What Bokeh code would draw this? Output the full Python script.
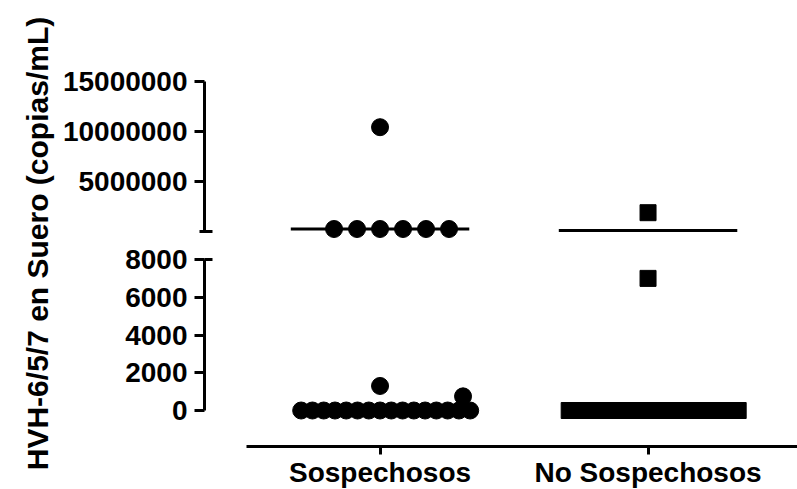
import numpy as np
from bokeh.plotting import figure
from bokeh.layouts import row, column
from bokeh.models import Range1d, FixedTicker, NumeralTickFormatter
from bokeh.embed import file_html
from bokeh.resources import INLINE

# ---------------- data ----------------
categories = ["Sospechosos", "No Sospechosos"]
sosp_values = [10400000] + [220000] * 6 + [1300, 750] + [0] * 16
nosp_values = [1850000, 7000] + [0] * 16
group_lines = [220000, 80000]          # horizontal line drawn for each group
upper_ticks = [5000000, 10000000, 15000000]
lower_ticks = [0, 2000, 4000, 6000, 8000]
break_value = 8000                      # top of the lower axis segment
upper_bottom = 0                        # bottom of the upper axis segment
upper_top = 15000000
y_title = "HVH-6/5/7 en Suero (copias/mL)"

# ---------------- layout helpers ----------------
FONT = "Liberation Sans"
PX_PER_CAT = 268.0
lone_shift_px = {750: 83.0}   # Prism nudged this lone point sideways


def scatter_offsets(values):
    vals = np.asarray(values, float)
    off = np.zeros(len(vals))
    for v in np.unique(vals):
        idx = np.where(vals == v)[0]
        n = len(idx)
        if n > 1:
            step = min(23.0, 169.0 / (n - 1))
            k = np.arange(n) - (n - 1) // 2
            off[idx] = k * step
        elif v in lone_shift_px:
            off[idx] = lone_shift_px[v]
    return off / PX_PER_CAT


xr = Range1d(0.345, 0.345 + 593 / PX_PER_CAT)


def style_y(ax):
    ax.axis_line_width = 3
    ax.axis_line_color = "black"
    ax.major_tick_line_width = 3
    ax.minor_tick_line_width = 3
    ax.major_tick_in = 0
    ax.major_tick_out = 10
    ax.major_label_text_font = FONT
    ax.major_label_text_font_style = "bold"
    ax.major_label_text_font_size = "28px"
    ax.major_label_text_color = "black"
    ax.major_label_standoff = 7


common = dict(toolbar_location=None, output_backend="svg", x_range=xr,
              frame_width=593, min_border_left=148, min_border_right=0,
              min_border_top=0, min_border_bottom=0, outline_line_color=None,
              background_fill_color="white", border_fill_color="white")

# ---------------- upper segment ----------------
upper = figure(frame_height=240, y_range=Range1d(-930000, 23070000),
               x_axis_location=None, **common)
upper.grid.visible = False
style_y(upper.yaxis[0])
upper.yaxis[0].ticker = FixedTicker(ticks=upper_ticks, minor_ticks=[upper_bottom])
upper.yaxis[0].formatter = NumeralTickFormatter(format="0")
upper.yaxis[0].bounds = (upper_bottom, upper_top)
upper.yaxis[0].minor_tick_in = 8
upper.yaxis[0].minor_tick_out = 5

# ---------------- lower segment ----------------
lower = figure(frame_height=206, y_range=Range1d(-1907, 9007), **common)
lower.grid.visible = False
style_y(lower.yaxis[0])
lower.yaxis[0].ticker = FixedTicker(ticks=lower_ticks, minor_ticks=[break_value])
lower.yaxis[0].formatter = NumeralTickFormatter(format="0")
lower.yaxis[0].bounds = (0, break_value)
lower.yaxis[0].minor_tick_in = 8
lower.yaxis[0].minor_tick_out = 0

xa = lower.xaxis[0]
xa.ticker = FixedTicker(ticks=[1, 2])
xa.major_label_overrides = {1: categories[0], 2: categories[1]}
xa.bounds = (0.5, 2.65)
xa.axis_line_width = 3
xa.major_tick_line_width = 3
xa.major_tick_in = 0
xa.major_tick_out = 8
xa.minor_tick_line_color = None
xa.major_label_text_font = FONT
xa.major_label_text_font_style = "bold"
xa.major_label_text_font_size = "28px"
xa.major_label_text_color = "black"
xa.major_label_standoff = 2

# ---------------- points ----------------
groups = [(sosp_values, "circle", 17), (nosp_values, "square", 16)]
for gi, (vals, marker, size) in enumerate(groups):
    v = np.asarray(vals, float)
    x = (gi + 1) + scatter_offsets(vals)
    hi = v > break_value
    lo = ~hi
    upper.scatter(x[hi], v[hi], marker=marker, size=size, color="black")
    lower.scatter(x[lo], v[lo], marker=marker, size=size, color="black")

cx = np.arange(1, len(categories) + 1, dtype=float)
upper.segment(x0=cx - 0.333, x1=cx + 0.333, y0=group_lines, y1=group_lines,
              line_width=3, line_color="black")

# ---------------- y title (shared by both segments) ----------------
tfig = figure(frame_width=3, frame_height=486, x_range=Range1d(0, 1),
              y_range=Range1d(0, 1), min_border_left=53, min_border_right=0,
              min_border_top=0, min_border_bottom=0, toolbar_location=None,
              output_backend="svg", x_axis_location=None,
              outline_line_color=None)
tfig.grid.visible = False
ty = tfig.yaxis[0]
ty.ticker = FixedTicker(ticks=[])
ty.axis_line_color = None
ty.major_tick_line_color = None
ty.minor_tick_line_color = None
ty.major_label_text_font_size = "0px"
ty.axis_label = y_title
ty.axis_label_standoff = 0
ty.axis_label_text_font = FONT
ty.axis_label_text_font_style = "bold"
ty.axis_label_text_font_size = "30px"
ty.axis_label_text_color = "black"

layout = row(tfig, column(upper, lower, spacing=0), spacing=0)

open("out.html", "w").write(file_html(layout, INLINE))
